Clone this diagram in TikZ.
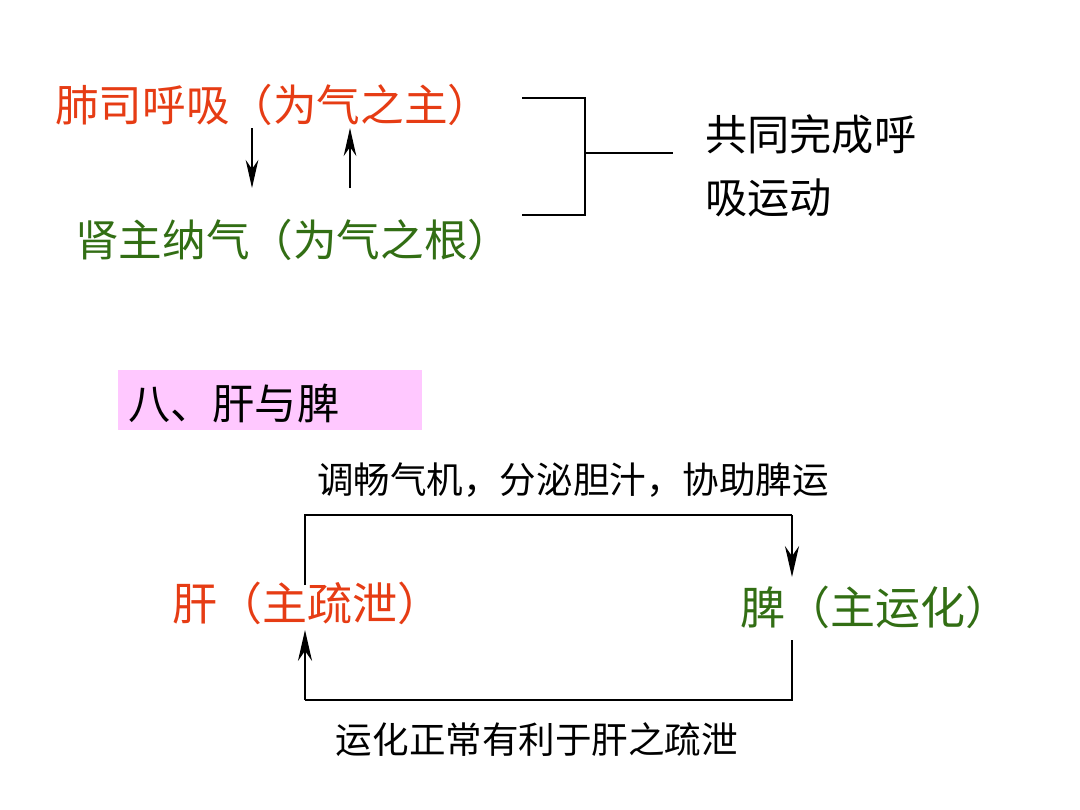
\documentclass[tikz,border=0pt]{standalone}
\usepackage{fontspec}
\setmainfont{Noto Sans CJK SC}
\usetikzlibrary{arrows.meta, positioning}
\definecolor{lungred}{RGB}{230,60,20}
\definecolor{kidneygreen}{RGB}{50,110,20}
\definecolor{titlepink}{RGB}{255,200,255}
\tikzset{
    bigtext/.style={font=\fontsize{31}{36}\selectfont, inner sep=0pt, anchor=west},
    smalltext/.style={font=\fontsize{26}{30}\selectfont, inner sep=0pt},
    connection/.style={draw=black, thick},
    flow/.style={draw=black, thick, -{Stealth[length=20pt,width=9pt]}},
    boldflow/.style={draw=black, line width=1.6pt, -{Stealth[length=22pt,width=10pt]}}
}
\begin{document}
\begin{tikzpicture}[x=0.025cm, y=-0.025cm]
    \useasboundingbox (0,0) rectangle (1080,810);

    % Lung and kidney
    \node[bigtext, text=lungred] (lung) at (55,105) {肺司呼吸（为气之主）};
    \node[bigtext, text=kidneygreen] (kidney) at (75,240) {肾主纳气（为气之根）};
    \coordinate (d1) at (252,128); \coordinate (d2) at (252,188);
    \coordinate (u1) at (350,188); \coordinate (u2) at (350,128);
    \draw[flow] (d1) -- (d2);
    \draw[flow] (u1) -- (u2);

    % Bracket
    \coordinate (bt) at (522,98); \coordinate (bb) at (522,215);
    \coordinate (bm) at (585,153); \coordinate (be) at (673,153);
    \draw[connection] (bt) -- (585,98) -- (585,215) -- (bb);
    \draw[connection] (bm) -- (be);
    \node[bigtext, align=left, font=\fontsize{30}{45}\selectfont] (joint) at (705,166) {共同完成呼\\吸运动};

    % Title box
    \node[fill=titlepink, minimum width=304*0.025cm, minimum height=60*0.025cm, anchor=north west] (titlebox) at (118,370) {};
    \node[bigtext, font=\fontsize{30}{34}\selectfont] (title) at (128,403) {八、肝与脾};

    % Liver and spleen
    \node[bigtext, font=\fontsize{32}{36}\selectfont, text=lungred] (liver) at (172,603) {肝（主疏泄）};
    \node[bigtext, font=\fontsize{32}{36}\selectfont, text=kidneygreen] (spleen) at (740,607) {脾（主运化）};
    \node[smalltext] (toplabel) at (573,480) {调畅气机，分泌胆汁，协助脾运};
    \node[smalltext] (botlabel) at (537,740) {运化正常有利于肝之疏泄};

    \coordinate (ls) at (305,585); \coordinate (se) at (792,577);
    \coordinate (ss) at (792,640); \coordinate (le) at (305,630);
    \draw[connection] (ls) -- (305,515) -- (792,515);
    \draw[boldflow] (792,515) -- (se);
    \draw[connection] (ss) -- (792,700) -- (305,700);
    \draw[boldflow] (305,700) -- (le);
\end{tikzpicture}
\end{document}
